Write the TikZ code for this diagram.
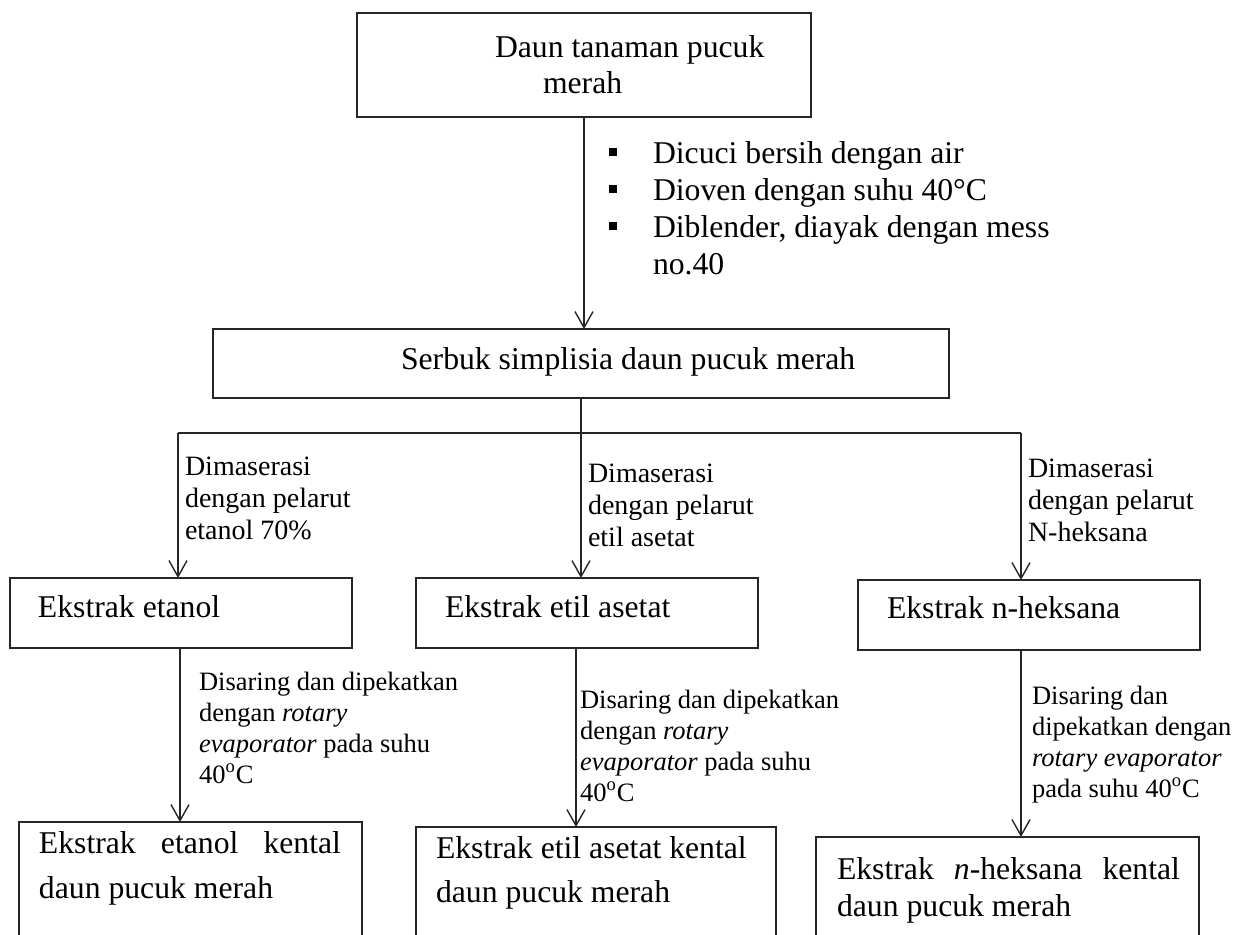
\documentclass[tikz,border=0pt]{standalone}
\usepackage{fontspec}
\setmainfont{Liberation Serif}
\usetikzlibrary{arrows.meta}
\newcommand{\sqbullet}{\makebox[22pt][l]{\rule[3.3pt]{4pt}{4pt}}}
\begin{document}
\begin{tikzpicture}[x=0.5pt,y=-0.5pt,
  line/.style={draw=black!85, line width=0.75pt},
  arr/.style={line, -{Straight Barb[length=8pt,width=9pt,line width=0.7pt]}},
  boxst/.style={draw=black!85, line width=0.8pt, rectangle, inner sep=0pt, outer sep=0pt},
  txt/.style={inner sep=0pt, outer sep=0pt, anchor=base west, align=left, text=black},
  big/.style={txt, font=\fontsize{15.85pt}{18pt}\selectfont},
  lab/.style={txt, font=\fontsize{14pt}{16pt}\selectfont},
  labs/.style={txt, font=\fontsize{13.25pt}{15.5pt}\selectfont}]
\useasboundingbox (0,0) rectangle (1237,934);
\clip (0,0) rectangle (1237,934);
\fill[white] (0,0) rectangle (1237,934);

% boxes
\node[boxst, minimum width=227pt, minimum height=52pt] (top) at (584,65) {};
\node[boxst, minimum width=368pt, minimum height=34.5pt] (serbuk) at (581,363.5) {};
\node[boxst, minimum width=171pt, minimum height=35pt] (etanol) at (181,613) {};
\node[boxst, minimum width=171pt, minimum height=35pt] (etil) at (587,613) {};
\node[boxst, minimum width=171pt, minimum height=35pt] (nhex) at (1029,615) {};
\node[boxst, minimum width=171.5pt, minimum height=69pt] (etanolk) at (190.5,891) {};
\node[boxst, minimum width=180pt, minimum height=66.5pt] (etilk) at (596,893.5) {};
\node[boxst, minimum width=191.5pt, minimum height=61.5pt] (nhexk) at (1007.5,898.5) {};

% box texts (multi-line nodes sit on the baseline of their last line)
\node[big, font=\fontsize{15.85pt}{18pt}\selectfont] (ttop) at (495,93)
  {Daun tanaman pucuk\\\hspace*{24pt}merah};
\node[big] (tserbuk) at (401,369) {Serbuk simplisia daun pucuk merah};
\node[big] (tetanol) at (38,617) {Ekstrak etanol};
\node[big] (tetil) at (445,617) {Ekstrak etil asetat};
\node[big] (tnhex) at (887,618) {Ekstrak n-heksana};
\node[big, font=\fontsize{15.85pt}{22.5pt}\selectfont] (tetanolk) at (39,898)
  {\makebox[151pt][s]{Ekstrak etanol kental}\\daun pucuk merah};
\node[big, font=\fontsize{15.85pt}{22pt}\selectfont] (tetilk) at (436,902)
  {Ekstrak etil asetat kental\\daun pucuk merah};
\node[big, font=\fontsize{15.85pt}{18.5pt}\selectfont] (tnhexk) at (837,916)
  {\makebox[171.5pt][s]{Ekstrak \textit{n}-heksana kental}\\daun pucuk merah};

% preparation steps
\node[big, font=\fontsize{15.85pt}{18.5pt}\selectfont] (steps) at (609,274)
  {\sqbullet Dicuci bersih dengan air\\
   \sqbullet Dioven dengan suhu 40°C\\
   \sqbullet Diblender, diayak dengan mess\\
   \hspace*{22pt}no.40};

% maceration labels
\node[lab] (m1) at (185,539) {Dimaserasi\\dengan pelarut\\etanol 70\%};
\node[lab] (m2) at (588,546) {Dimaserasi\\dengan pelarut\\etil asetat};
\node[lab] (m3) at (1028,541) {Dimaserasi\\dengan pelarut\\N-heksana};

% concentration labels
\node[labs] (c1) at (199,783)
  {Disaring dan dipekatkan\\dengan \textit{rotary}\\\textit{evaporator} pada suhu\\40\textsuperscript{o}C};
\node[labs] (c2) at (580,801)
  {Disaring dan dipekatkan\\dengan \textit{rotary}\\\textit{evaporator} pada suhu\\40\textsuperscript{o}C};
\node[labs] (c3) at (1032,797)
  {Disaring dan\\dipekatkan dengan\\\textit{rotary evaporator}\\pada suhu 40\textsuperscript{o}C};

% connectors
\coordinate (jL) at (178,433);
\coordinate (jR) at (1021,433);
\draw[arr] (top.south) -- (top.south |- serbuk.north);
\draw[line] (serbuk.south) -- (serbuk.south |- jL);
\draw[line] (jL) -- (jR);
\draw[arr] (jL) -- (jL |- etanol.north);
\draw[arr] (serbuk.south |- jL) -- (serbuk.south |- etil.north);
\draw[arr] (jR) -- (jR |- nhex.north);
\coordinate (e1) at ([xshift=-0.5pt]etanol.south);
\coordinate (e2) at ([xshift=-5.5pt]etil.south);
\coordinate (e3) at (nhex.south -| jR);
\draw[arr] (e1) -- (e1 |- etanolk.north);
\draw[arr] (e2) -- (e2 |- etilk.north);
\draw[arr] (e3) -- (e3 |- nhexk.north);
\end{tikzpicture}
\end{document}
